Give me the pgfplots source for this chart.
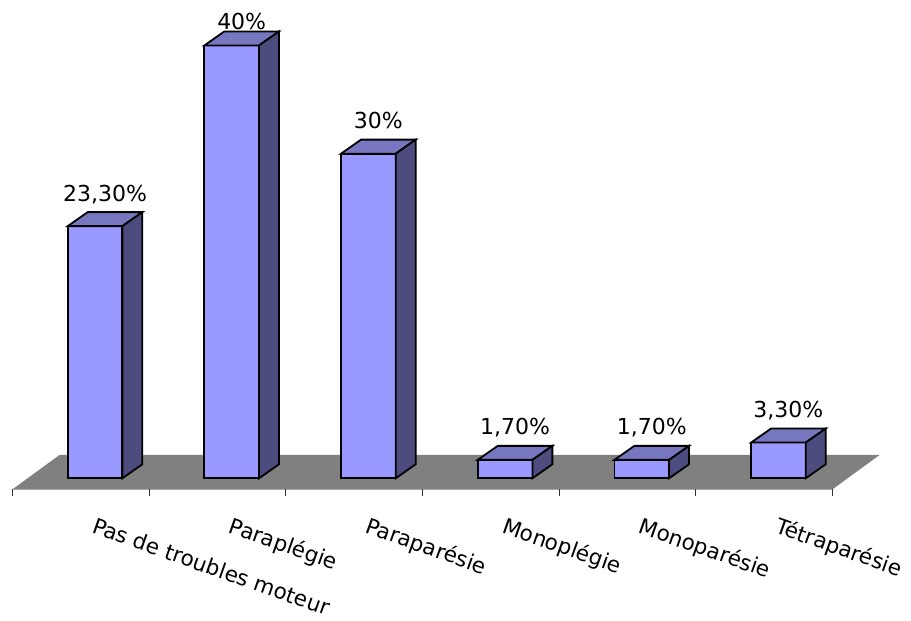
\documentclass[border=0pt]{standalone}
\usepackage{pgfplots}
\pgfplotsset{compat=1.18}
\usepackage{pgfplotstable}
\usepackage{fontspec}
\setmainfont{DejaVu Sans}

\definecolor{barfront}{RGB}{153,153,255}
\definecolor{bartop}{RGB}{119,119,191}
\definecolor{barside}{RGB}{76,76,127}
\definecolor{floorgray}{RGB}{128,128,128}
\definecolor{axisgray}{RGB}{170,170,170}

% share of patients by motor disorder
\pgfplotstableread[col sep=semicolon]{
x;v;lab;cat
0;23.3;23,30\%;Pas de troubles moteur
1;40;40\%;Paraplégie
2;30;30\%;Paraparésie
3;1.7;1,70\%;Monoplégie
4;1.7;1,70\%;Monoparésie
5;3.3;3,30\%;Tétraparésie
}\data

% oblique depth of a bar, in axis units
\def\ddx{0.146}
\def\ddy{1.294}

\begin{document}
\begin{tikzpicture}
\begin{axis}[
  scale only axis, width=911pt, height=621pt,
  xmin=-0.1954, xmax=6.470, ymin=-13.19, ymax=44.20,
  hide axis, clip=false,
]
\path (rel axis cs:0,0) rectangle (rel axis cs:1,1);

% floor
\addplot[fill=floorgray, draw=none]
  coordinates {(-0.104,-1.017) (5.896,-1.017) (6.240,2.153) (0.240,2.153)} -- cycle;
\addplot[axisgray, line width=0.8pt] coordinates {(-0.104,-1.017) (5.896,-1.017)};
% category ticks
\addplot[black!80, line width=0.9pt, unbounded coords=jump] coordinates {
  (-0.104,-1.017) (-0.104,-1.67) (-0.104,nan)
  (0.896,-1.017) (0.896,-1.67) (0.896,nan)
  (1.896,-1.017) (1.896,-1.67) (1.896,nan)
  (2.896,-1.017) (2.896,-1.67) (2.896,nan)
  (3.896,-1.017) (3.896,-1.67) (3.896,nan)
  (4.896,-1.017) (4.896,-1.67) (4.896,nan)
  (5.896,-1.017) (5.896,-1.67)
};

% 3D bars: front, top and side faces
\pgfplotsinvokeforeach{0,...,5}{
  \pgfplotstablegetelem{#1}{v}\of\data
  \let\v\pgfplotsretval
  \pgfmathsetmacro\xl{#1+0.3}
  \pgfmathsetmacro\xr{#1+0.7}
  \pgfmathsetmacro\xlb{#1+0.3+\ddx}
  \pgfmathsetmacro\xrb{#1+0.7+\ddx}
  \pgfmathsetmacro\yt{\v+\ddy}
  \edef\temp{%
    \noexpand\addplot[fill=barfront, draw=black, line width=1.8pt]
      coordinates {(\xl,0) (\xr,0) (\xr,\v) (\xl,\v)} -- cycle;
    \noexpand\addplot[fill=bartop, draw=black, line width=1.8pt]
      coordinates {(\xl,\v) (\xr,\v) (\xrb,\yt) (\xlb,\yt)} -- cycle;
    \noexpand\addplot[fill=barside, draw=black, line width=1.8pt]
      coordinates {(\xr,0) (\xrb,\ddy) (\xrb,\yt) (\xr,\v)} -- cycle;
  }%
  \temp
}

% value labels
\addplot[draw=none, mark=none, nodes near coords, point meta=explicit symbolic,
  nodes near coords style={anchor=base, inner sep=0pt, black,
    font=\fontsize{22}{26}\selectfont}]
  table[x expr=\thisrow{x}+0.573, y expr={min(\thisrow{v}+2.31,41.43)}, meta=lab]{\data};

% category labels
\addplot[draw=none, mark=none, nodes near coords, point meta=explicit symbolic,
  nodes near coords style={anchor=base west, inner sep=0pt, rotate=-19.5, black,
    font=\fontsize{21.5}{26}\selectfont}]
  table[x expr=\thisrow{x}+0.47, y expr=-5.0, meta=cat]{\data};
\end{axis}
\end{tikzpicture}
\end{document}
